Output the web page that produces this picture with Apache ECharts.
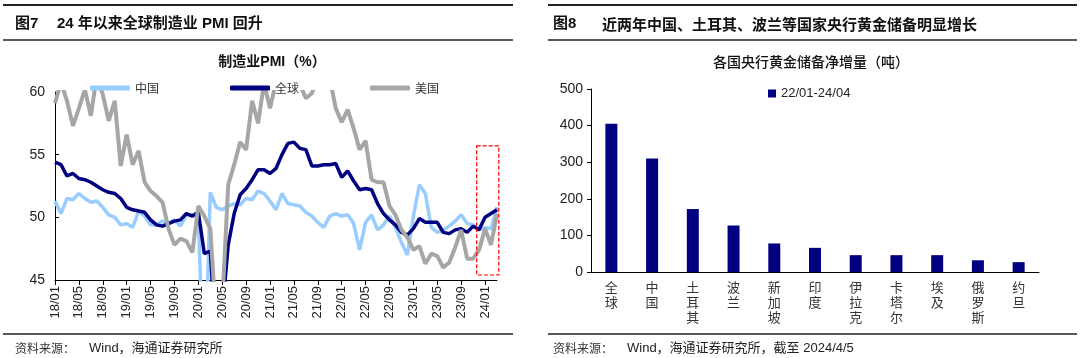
<!DOCTYPE html>
<html>
<head>
<meta charset="utf-8">
<script src="https://cdn.jsdelivr.net/npm/echarts@6/dist/echarts.min.js"></script>
<style>
html,body{margin:0;padding:0;background:#fff;}
#c{width:1080px;height:358px;}
</style>
</head>
<body>
<div id="c"></div>
<script>
// ---------- Left chart data: manufacturing PMI ----------
const months = [
 '18/01','18/02','18/03','18/04','18/05','18/06','18/07','18/08','18/09','18/10','18/11','18/12',
 '19/01','19/02','19/03','19/04','19/05','19/06','19/07','19/08','19/09','19/10','19/11','19/12',
 '20/01','20/02','20/03','20/04','20/05','20/06','20/07','20/08','20/09','20/10','20/11','20/12',
 '21/01','21/02','21/03','21/04','21/05','21/06','21/07','21/08','21/09','21/10','21/11','21/12',
 '22/01','22/02','22/03','22/04','22/05','22/06','22/07','22/08','22/09','22/10','22/11','22/12',
 '23/01','23/02','23/03','23/04','23/05','23/06','23/07','23/08','23/09','23/10','23/11','23/12',
 '24/01','24/02','24/03'
];
const chinaPMI = [
 51.3,50.3,51.5,51.4,51.9,51.5,51.2,51.3,50.8,50.2,50.0,49.4,
 49.5,49.2,50.5,50.1,49.4,49.4,49.7,49.5,49.8,49.3,50.2,50.2,
 50.0,35.7,52.0,50.8,50.6,50.9,51.1,51.0,51.5,51.4,52.1,51.9,
 51.3,50.6,51.9,51.1,51.0,50.9,50.4,50.1,49.6,49.2,50.1,50.3,
 50.1,50.2,49.5,47.4,49.6,50.2,49.0,49.4,50.1,49.2,48.0,47.0,
 50.1,52.6,51.9,49.2,48.8,49.0,49.3,49.7,50.2,49.5,49.4,49.0,
 49.2,49.1,50.8
];
const globalPMI = [
 54.4,54.2,53.3,53.5,53.1,53.0,52.8,52.5,52.2,52.0,51.9,51.5,
 50.8,50.6,50.5,50.4,49.8,49.4,49.3,49.5,49.7,49.8,50.3,50.1,
 50.4,47.1,47.3,39.6,42.4,47.8,50.3,51.8,52.3,53.0,53.8,53.8,
 53.5,53.9,55.0,55.9,56.0,55.5,55.4,54.1,54.1,54.2,54.2,54.3,
 53.2,53.7,52.9,52.2,52.3,52.2,51.1,50.3,49.8,49.4,48.8,48.6,
 49.1,49.9,49.6,49.6,49.6,48.8,48.7,49.0,49.1,48.8,49.3,49.0,
 50.0,50.3,50.6
];
const usPMI = [
 59.1,60.8,59.3,57.3,58.7,60.2,58.1,61.3,59.8,57.7,59.3,54.1,
 56.6,54.2,55.3,52.8,52.1,51.7,51.2,49.1,47.8,48.3,48.1,47.2,
 50.9,50.1,49.1,41.5,43.1,52.6,54.2,56.0,55.4,59.3,57.5,60.7,
 58.7,60.8,64.7,60.7,61.2,60.6,59.5,59.9,61.1,60.8,61.1,58.7,
 57.6,58.6,57.1,55.4,56.1,53.0,52.8,52.8,50.9,50.2,49.0,48.4,
 47.4,47.7,46.3,47.1,46.9,46.0,46.4,47.6,49.0,46.7,46.7,47.4,
 49.1,47.8,50.3
];
const pmiTicks = [45, 50, 55, 60];
const highlightRange = ['23/11', '24/03', 45.4, 55.7];

// ---------- Right chart data: central bank gold net additions (tonnes) ----------
const countries = ['全球','中国','土耳其','波兰','新加坡','印度','伊拉克','卡塔尔','埃及','俄罗斯','约旦'];
const goldAdd = [405, 310, 172, 127, 78, 66, 46, 46, 46, 32, 27];
const goldSeriesName = '22/01-24/04';
const goldTicks = [0, 100, 200, 300, 400, 500];

const CJK = '"Noto Sans CJK SC", sans-serif';
const LAT = '"Liberation Sans", "Noto Sans CJK SC", sans-serif';

const chart = echarts.init(document.getElementById('c'), null, {renderer: 'canvas'});

const option = {
  animation: false,
  backgroundColor: '#fff',
  grid: [
    {left: 55, right: 583, top: 92, bottom: 78, containLabel: false},
    {left: 591, right: 41, top: 89, bottom: 86, containLabel: false}
  ],
  legend: [
    {
      data: ['中国', '全球', '美国'],
      left: 85, top: 77,
      itemWidth: 40, itemHeight: 5, itemGap: 71,
      icon: 'roundRect',
      textStyle: {fontFamily: CJK, fontSize: 12, color: '#333'}
    },
    {
      data: [goldSeriesName],
      left: 763, top: 82,
      itemWidth: 8, itemHeight: 8, itemGap: 2,
      icon: 'rect',
      textStyle: {fontFamily: LAT, fontSize: 13, color: '#222'}
    }
  ],
  xAxis: [
    {
      type: 'category', gridIndex: 0, data: months, boundaryGap: false,
      axisLine: {lineStyle: {color: '#000', width: 1}},
      axisTick: {interval: 3, length: 5, lineStyle: {color: '#000'}},
      axisLabel: {interval: 3, rotate: 90, fontFamily: LAT, fontSize: 13, color: '#222', margin: 6}
    },
    {
      type: 'category', gridIndex: 1, data: countries, boundaryGap: true,
      axisLine: {lineStyle: {color: '#000', width: 1}},
      axisTick: {length: 4, lineStyle: {color: '#000'}},
      axisLabel: {
        interval: 0, fontFamily: CJK, fontSize: 13, color: '#333', margin: 8, lineHeight: 15,
        formatter: v => v.split('').join('\n')
      }
    }
  ],
  yAxis: [
    {
      type: 'value', gridIndex: 0, min: pmiTicks[0], max: pmiTicks[pmiTicks.length - 1], interval: 5,
      axisLine: {show: true, lineStyle: {color: '#000'}},
      axisTick: {show: true, inside: true, length: 4, lineStyle: {color: '#000'}},
      splitLine: {show: false},
      axisLabel: {fontFamily: LAT, fontSize: 14, color: '#222', margin: 10}
    },
    {
      type: 'value', gridIndex: 1, min: goldTicks[0], max: goldTicks[goldTicks.length - 1], interval: 100,
      axisLine: {show: true, lineStyle: {color: '#000'}},
      axisTick: {show: true, length: 4, lineStyle: {color: '#000'}},
      splitLine: {show: false},
      axisLabel: {fontFamily: LAT, fontSize: 14, color: '#222', margin: 8}
    }
  ],
  series: [
    {name: '中国', type: 'line', xAxisIndex: 0, yAxisIndex: 0, data: chinaPMI, symbol: 'none', clip: true,
     lineStyle: {color: '#99CCFF', width: 3.5}, itemStyle: {color: '#99CCFF'}},
    {name: '全球', type: 'line', xAxisIndex: 0, yAxisIndex: 0, data: globalPMI, symbol: 'none', clip: true,
     lineStyle: {color: '#000080', width: 3.5}, itemStyle: {color: '#000080'}},
    {name: '美国', type: 'line', xAxisIndex: 0, yAxisIndex: 0, data: usPMI, symbol: 'none', clip: true,
     lineStyle: {color: '#A6A6A6', width: 4}, itemStyle: {color: '#A6A6A6'}},
    {name: goldSeriesName, type: 'bar', xAxisIndex: 1, yAxisIndex: 1, data: goldAdd, barWidth: 12,
     itemStyle: {color: '#000080'}}
  ]
};
chart.setOption(option);

// red dashed highlight box, positioned via the axes
const step = chart.convertToPixel({gridIndex: 0}, [1, 50])[0] - chart.convertToPixel({gridIndex: 0}, [0, 50])[0];
const pA = chart.convertToPixel({gridIndex: 0}, [highlightRange[0], highlightRange[3]]);
const pB = chart.convertToPixel({gridIndex: 0}, [highlightRange[1], highlightRange[2]]);
const bx0 = pA[0] + step * 0.6, bx1 = pB[0] + step * 0.3;

const rule = (x1, x2, y, w) => ({type: 'line', shape: {x1, y1: y, x2, y2: y}, style: {stroke: '#222', lineWidth: w}, silent: true});
const txt = (text, x, y, font, align, fill) => ({type: 'text', x, y, style: {text, font, fill: fill || '#111', align: align || 'left', verticalAlign: 'middle'}, silent: true});

chart.setOption({
  graphic: [
    rule(3, 513, 5, 2), rule(3, 513, 40, 1.5), rule(3, 513, 334, 1.5),
    rule(548, 1077, 5, 2), rule(548, 1077, 40, 1.5), rule(548, 1077, 334, 1.5),
    txt('图7', 15, 24, 'bold 15px ' + LAT),
    txt('24 年以来全球制造业 PMI 回升', 57, 24, 'bold 15px ' + LAT),
    txt('图8', 553, 24, 'bold 15px ' + LAT),
    txt('近两年中国、土耳其、波兰等国家央行黄金储备明显增长', 602, 24, 'bold 15px ' + CJK),
    txt('制造业PMI（%）', 272, 62, 'bold 14px ' + LAT, 'center'),
    txt('各国央行黄金储备净增量（吨）', 811, 62, '500 14px ' + CJK, 'center'),
    txt('资料来源：', 15, 348, '12px ' + CJK, 'left', '#333'),
    txt('Wind，海通证券研究所', 89, 348, '13px ' + LAT, 'left', '#222'),
    txt('资料来源：', 553, 348, '12px ' + CJK, 'left', '#333'),
    txt('Wind，海通证券研究所，截至 2024/4/5', 627, 348, '13px ' + LAT, 'left', '#222'),
    {type: 'rect', shape: {x: bx0, y: pA[1], width: bx1 - bx0, height: pB[1] - pA[1]},
     style: {fill: 'none', stroke: '#FF0000', lineWidth: 1.2, lineDash: [4, 2]}, silent: true, z: 100}
  ]
});
</script>
</body>
</html>
